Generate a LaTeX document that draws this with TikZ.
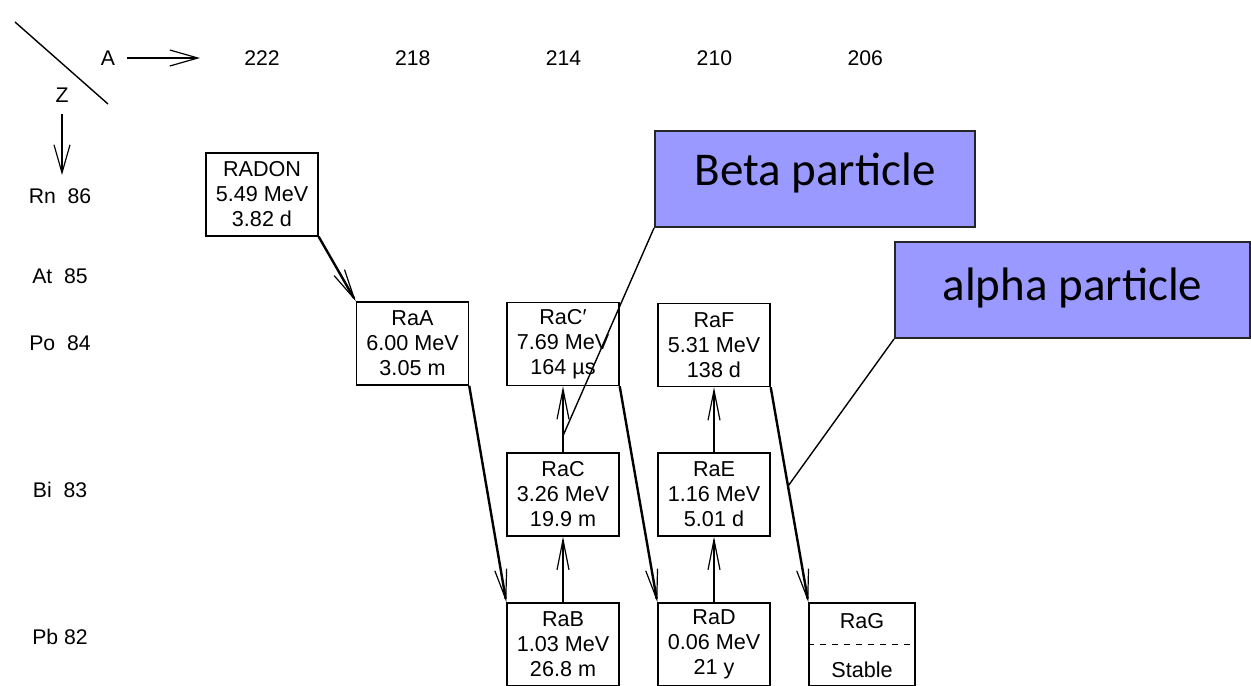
\documentclass[tikz,border=0pt]{standalone}
\usepackage{fontspec}
\setmainfont{Liberation Sans}
\newfontfamily\calibri{Carlito}
\usetikzlibrary{arrows.meta}
\usetikzlibrary{calc}
\definecolor{callblue}{RGB}{153,153,255}

\begin{document}
\begin{tikzpicture}[x=0.5pt, y=-0.5pt,
    >={Straight Barb[length=15pt,width=6pt,line width=0.6pt]},
    nuclide/.style={draw, line width=0.7pt, minimum width=56pt, minimum height=41.5pt,
        inner sep=0pt, align=center, font=\fontsize{10.8}{12.5}\selectfont},
    axlabel/.style={font=\fontsize{10.6}{12}\selectfont},
    axis/.style={-{Straight Barb[length=14pt,width=8pt,line width=0.6pt]}, line width=1pt, shorten <=2.5pt},
    decay/.style={->, line width=1.2pt},
    callout/.style={draw=black!85, fill=callblue, line width=1pt, minimum width=160pt,
        minimum height=48pt, inner sep=0pt, font=\calibri\fontsize{23.5}{28}\selectfont},
    pointer/.style={line width=0.7pt}]
    \useasboundingbox (0,0) rectangle (1251,685);
    % A / Z corner
    \draw[line width=0.7pt] (15,22) -- (108,104);
    \node[axlabel] (a) at (108,58) {A};
    \node[axlabel] (z) at (62,95) {Z};
    \coordinate (aend) at (200,58);
    \coordinate (zend) at (62,175);
    \draw[axis] (a) -- (aend);
    \draw[axis] (z) -- (zend);
    % mass numbers
    \foreach \m [count=\i] in {222,218,214,210,206}
        \node[axlabel] (m\m) at ({262+150.8*(\i-1)}, 58) {\m};
    % elements
    \foreach \el/\zz/\y in {Rn~~/86/196, At~~/85/276, Po~~/84/343, Bi~~/83/490, Pb~/82/637}
        \node[axlabel] (z\zz) at (60,\y) {\el\zz};
    % nuclides
    \node[nuclide] (radon) at (262,194.5) {RADON\\5.49 MeV\\3.82 d};
    \node[nuclide] (raa) at (412.5,343.5) {RaA\\6.00 MeV\\3.05 m};
    \node[nuclide] (racp) at (563,344) {RaC′\\7.69 MeV\\164 µs};
    \node[nuclide] (raf) at (714,345) {RaF\\5.31 MeV\\138 d};
    \node[nuclide] (rac) at (563,494.5) {RaC\\3.26 MeV\\19.9 m};
    \node[nuclide] (rae) at (714,494.5) {RaE\\1.16 MeV\\5.01 d};
    \node[nuclide] (rab) at (563,644.5) {RaB\\1.03 MeV\\26.8 m};
    \node[nuclide] (rad) at (714,644.5) {RaD\\0.06 MeV\\21 y};
    \node[nuclide, minimum width=53pt] (rag) at (862,644.5) {};
    \draw[dashed, line width=0.6pt] (rag.west) -- (rag.east);
    \node[axlabel, font=\fontsize{10.8}{12.5}\selectfont, anchor=base] (ragname) at (862,628) {RaG};
    \node[axlabel, font=\fontsize{10.8}{12.5}\selectfont, anchor=base] (ragstable) at (862,677) {Stable};
    % alpha decays
    \draw[decay] (radon.south east) -- (raa.north west);
    \draw[decay] (raa.south east) -- (rab.north west);
    \draw[decay] (racp.south east) -- (rad.north west);
    \draw[decay] (raf.south east) -- coordinate[pos=0.46] (apt) (rag.north west);
    % beta decays
    \draw[decay] (rab) -- (rac);
    \draw[decay] (rac) -- coordinate[pos=0.25] (bpt) (racp);
    \draw[decay] (rad) -- (rae);
    \draw[decay] (rae) -- (raf);
    % callouts
    \node[callout, text height=16pt, text depth=10pt] (betabox) at (815,179) {Beta particle};
    \node[callout, minimum width=177.5pt, text height=16pt, text depth=6pt] (alphabox) at (1072.5,290) {alpha particle};
    \draw[pointer] (betabox.south west) -- (bpt);
    \draw[pointer] (alphabox.south west) -- (apt);
\end{tikzpicture}
\end{document}
